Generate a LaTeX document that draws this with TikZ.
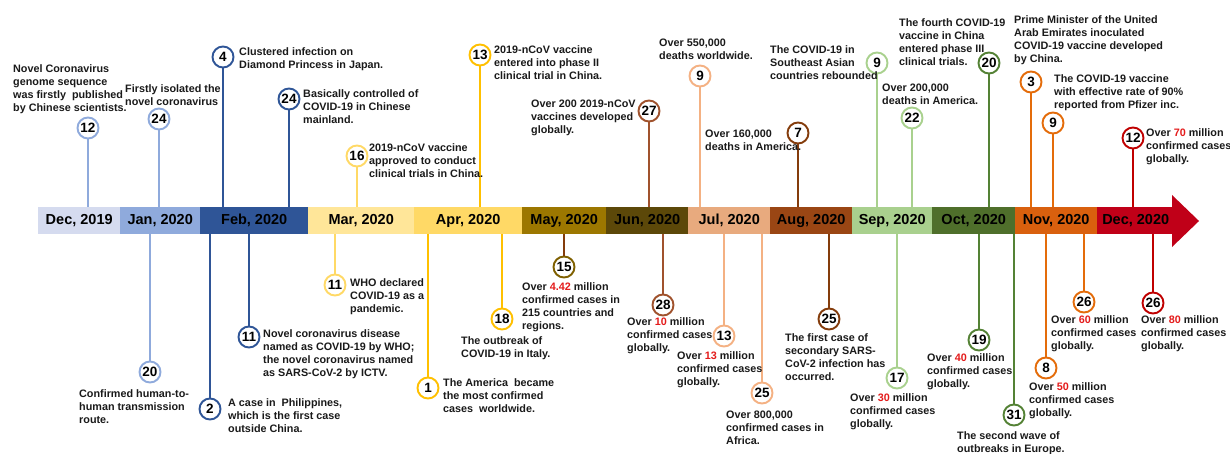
\documentclass[tikz,border=0pt]{standalone}
\usepackage{fontspec}
\setmainfont{Liberation Sans}
\definecolor{cD19}{HTML}{D5DBEF}
\definecolor{cJan}{HTML}{8FAADC}
\definecolor{cFeb}{HTML}{2F5597}
\definecolor{cMar}{HTML}{FFE699}
\definecolor{cApr}{HTML}{FFD966}
\definecolor{cMay}{HTML}{9C7700}
\definecolor{cJun}{HTML}{5C4809}
\definecolor{cJul}{HTML}{E8AA7E}
\definecolor{cAug}{HTML}{9A4614}
\definecolor{cSep}{HTML}{A9D08E}
\definecolor{cOct}{HTML}{4F6F2B}
\definecolor{cNov}{HTML}{D9600E}
\definecolor{cDec}{HTML}{C00018}
\definecolor{sJan}{HTML}{8FAADC}
\definecolor{sFeb}{HTML}{2F5597}
\definecolor{sMar}{HTML}{FFD966}
\definecolor{sApr}{HTML}{FFC000}
\definecolor{sMay}{HTML}{7F6000}
\definecolor{sJun}{HTML}{A0522D}
\definecolor{sJul}{HTML}{F4B183}
\definecolor{sAug}{HTML}{843C0C}
\definecolor{sSep}{HTML}{A9D18E}
\definecolor{sOct}{HTML}{548235}
\definecolor{sNov}{HTML}{E46C0A}
\definecolor{sDec}{HTML}{C00000}
\definecolor{numred}{HTML}{E41B1B}
\definecolor{txtcol}{HTML}{1A1A1A}
\newcommand{\rn}[1]{\textcolor{numred}{#1}}
\tikzset{
  ev/.style={circle, draw=#1, fill=white, line width=1.9pt, minimum size=21pt, inner sep=0pt, text=black, font=\bfseries\fontsize{13.5}{13.5}\selectfont},
  stem/.style={draw=#1, line width=1.6pt},
  txt/.style={anchor=north west, inner sep=0pt, align=left, text=txtcol, font=\bfseries\fontsize{10.8}{13}\selectfont},
  month/.style={fill=#1, anchor=west, minimum height=27pt, inner sep=0pt, text=black, font=\bfseries\fontsize{14.5}{14.5}\selectfont},
}
\begin{document}
\begin{tikzpicture}[x=1pt,y=-1pt]
\fill[white] (0,0) rectangle (1230,454);
\useasboundingbox (0,0) rectangle (1230,454);
% timeline bar
\fill[cDec] (1172,195) -- (1199,221) -- (1172,247) -- cycle;
\node[month=cD19, minimum width=82pt] (mD19) at (38,220.5) {Dec, 2019};
\node[month=cJan, minimum width=80pt] (mJan) at (120,220.5) {Jan, 2020};
\node[month=cFeb, minimum width=108pt] (mFeb) at (200,220.5) {Feb, 2020};
\node[month=cMar, minimum width=106pt] (mMar) at (308,220.5) {Mar, 2020};
\node[month=cApr, minimum width=108pt] (mApr) at (414,220.5) {Apr, 2020};
\node[month=cMay, minimum width=84pt] (mMay) at (522,220.5) {May, 2020};
\node[month=cJun, minimum width=82pt] (mJun) at (606,220.5) {Jun, 2020};
\node[month=cJul, minimum width=82pt] (mJul) at (688,220.5) {Jul, 2020};
\node[month=cAug, minimum width=82pt] (mAug) at (770,220.5) {Aug, 2020};
\node[month=cSep, minimum width=80pt] (mSep) at (852,220.5) {Sep, 2020};
\node[month=cOct, minimum width=83pt] (mOct) at (932,220.5) {Oct, 2020};
\node[month=cNov, minimum width=82pt] (mNov) at (1015,220.5) {Nov, 2020};
\node[month=cDec, minimum width=77pt] (mDec) at (1097,220.5) {Dec, 2020};

% ---------- top events ----------
\node[ev=sJan] (t1) at (88,128) {12};
\node[ev=sJan] (t2) at (159,119) {24};
\node[ev=sFeb] (t3) at (223,57) {4};
\node[ev=sFeb] (t4) at (289,99) {24};
\node[ev=sMar] (t5) at (357,156) {16};
\node[ev=sApr] (t6) at (480,55) {13};
\node[ev=sJun] (t7) at (649,111) {27};
\node[ev=sJul] (t8) at (700,76) {9};
\node[ev=sAug] (t9) at (798,133) {7};
\node[ev=sSep] (t10) at (877,63) {9};
\node[ev=sSep] (t11) at (912,118) {22};
\node[ev=sOct] (t12) at (989,63) {20};
\node[ev=sNov] (t13) at (1031,82) {3};
\node[ev=sNov] (t14) at (1053,123) {9};
\node[ev=sDec] (t15) at (1133,138) {12};

\draw[stem=sJan] (t1.south) -- (t1 |- mD19.north);
\draw[stem=sJan] (t2.south) -- (t2 |- mJan.north);
\draw[stem=sFeb] (t3.south) -- (t3 |- mFeb.north);
\draw[stem=sFeb] (t4.south) -- (t4 |- mFeb.north);
\draw[stem=sMar] (t5.south) -- (t5 |- mMar.north);
\draw[stem=sApr] (t6.south) -- (t6 |- mApr.north);
\draw[stem=sJun] (t7.south) -- (t7 |- mJun.north);
\draw[stem=sJul] (t8.south) -- (t8 |- mJul.north);
\draw[stem=sAug] (t9.south) -- (t9 |- mAug.north);
\draw[stem=sSep] (t10.south) -- (t10 |- mSep.north);
\draw[stem=sSep] (t11.south) -- (t11 |- mSep.north);
\draw[stem=sOct] (t12.south) -- (t12 |- mOct.north);
\draw[stem=sNov] (t13.south) -- (t13 |- mNov.north);
\draw[stem=sNov] (t14.south) -- (t14 |- mNov.north);
\draw[stem=sDec] (t15.south) -- (t15 |- mDec.north);

\node[txt] (tx1) at (13,64) {Novel Coronavirus\\genome sequence\\was firstly\ \ published\\by Chinese scientists.};
\node[txt] (tx2) at (125,84) {Firstly isolated the\\novel coronavirus};
\node[txt] (tx3) at (239,47) {Clustered infection on\\Diamond Princess in Japan.};
\node[txt] (tx4) at (303,89) {Basically controlled of\\COVID-19 in Chinese\\mainland.};
\node[txt] (tx5) at (369,143) {2019-nCoV vaccine\\approved to conduct\\clinical trials in China.};
\node[txt] (tx6) at (494,45) {2019-nCoV vaccine\\entered into phase II\\clinical trial in China.};
\node[txt] (tx7) at (531,100) {Over 200 2019-nCoV\\vaccines developed\\globally.};
\node[txt] (tx8) at (659,39) {Over 550,000\\deaths worldwide.};
\node[txt] (tx9) at (705,130) {Over 160,000\\deaths in America.};
\node[txt] (tx10) at (770,45) {The COVID-19 in\\Southeast Asian\\countries rebounded};
\node[txt] (tx11) at (882,84) {Over 200,000\\deaths in America.};
\node[txt] (tx12) at (899,18) {The fourth COVID-19\\vaccine in China\\entered phase III\\clinical trials.};
\node[txt] (tx13) at (1014,15) {Prime Minister of the United\\Arab Emirates inoculated\\COVID-19 vaccine developed\\by China.};
\node[txt] (tx14) at (1054,74) {The COVID-19 vaccine\\with effective rate of 90\%\\reported from Pfizer inc.};
\node[txt] (tx15) at (1146,128) {Over \rn{70} million\\confirmed cases\\globally.};

% ---------- bottom events ----------
\node[ev=sJan] (b1) at (150,372) {20};
\node[ev=sFeb] (b2) at (210,409) {2};
\node[ev=sFeb] (b3) at (249,337) {11};
\node[ev=sMar] (b4) at (335,285) {11};
\node[ev=sApr] (b5) at (428,388) {1};
\node[ev=sApr] (b6) at (502,319) {18};
\node[ev=sMay] (b7) at (564,267) {15};
\node[ev=sJun] (b8) at (663,305) {28};
\node[ev=sJul] (b9) at (724,336) {13};
\node[ev=sJul] (b10) at (762,393) {25};
\node[ev=sAug] (b11) at (829,319) {25};
\node[ev=sSep] (b12) at (897,378) {17};
\node[ev=sOct] (b13) at (979,340) {19};
\node[ev=sOct] (b14) at (1014,415) {31};
\node[ev=sNov] (b15) at (1046,368) {8};
\node[ev=sNov] (b16) at (1084,302) {26};
\node[ev=sDec] (b17) at (1153,303) {26};

\draw[stem=sJan] (b1.north) -- (b1 |- mJan.south);
\draw[stem=sFeb] (b2.north) -- (b2 |- mFeb.south);
\draw[stem=sFeb] (b3.north) -- (b3 |- mFeb.south);
\draw[stem=sMar] (b4.north) -- (b4 |- mMar.south);
\draw[stem=sApr] (b5.north) -- (b5 |- mApr.south);
\draw[stem=sApr] (b6.north) -- (b6 |- mApr.south);
\draw[stem=sAug] (b7.north) -- (b7 |- mMay.south);
\draw[stem=sJun] (b8.north) -- (b8 |- mJun.south);
\draw[stem=sJul] (b9.north) -- (b9 |- mJul.south);
\draw[stem=sJul] (b10.north) -- (b10 |- mJul.south);
\draw[stem=sAug] (b11.north) -- (b11 |- mAug.south);
\draw[stem=sSep] (b12.north) -- (b12 |- mSep.south);
\draw[stem=sOct] (b13.north) -- (b13 |- mOct.south);
\draw[stem=sOct] (b14.north) -- (b14 |- mOct.south);
\draw[stem=sNov] (b15.north) -- (b15 |- mNov.south);
\draw[stem=sNov] (b16.north) -- (b16 |- mNov.south);
\draw[stem=sDec] (b17.north) -- (b17 |- mDec.south);

\node[txt] (bx1) at (79,389) {Confirmed human-to-\\human transmission\\route.};
\node[txt] (bx2) at (228,398) {A case in\ \ Philippines,\\which is the first case\\outside China.};
\node[txt] (bx3) at (263,329) {Novel coronavirus disease\\named as COVID-19 by WHO;\\the novel coronavirus named\\as SARS-CoV-2 by ICTV.};
\node[txt] (bx4) at (350,278) {WHO declared\\COVID-19 as a\\pandemic.};
\node[txt] (bx5) at (443,378) {The America\ \ became\\the most confirmed\\cases\ \ worldwide.};
\node[txt] (bx6) at (461,336) {The outbreak of\\COVID-19 in Italy.};
\node[txt] (bx7) at (522,282) {Over \rn{4.42} million\\confirmed cases in\\215 countries and\\regions.};
\node[txt] (bx8) at (627,317) {Over \rn{10} million\\confirmed cases\\globally.};
\node[txt] (bx9) at (677,351) {Over \rn{13} million\\confirmed cases\\globally.};
\node[txt] (bx10) at (726,411) {Over 800,000\\confirmed cases in\\Africa.};
\node[txt] (bx11) at (785,333) {The first case of\\secondary SARS-\\CoV-2 infection has\\occurred.};
\node[txt] (bx12) at (850,393) {Over \rn{30} million\\confirmed cases\\globally.};
\node[txt] (bx13) at (927,353) {Over \rn{40} million\\confirmed cases\\globally.};
\node[txt] (bx14) at (957,431) {The second wave of\\outbreaks in Europe.};
\node[txt] (bx15) at (1029,382) {Over \rn{50} million\\confirmed cases\\globally.};
\node[txt] (bx16) at (1051,315) {Over \rn{60} million\\confirmed cases\\globally.};
\node[txt] (bx17) at (1141,315) {Over \rn{80} million\\confirmed cases\\globally.};
\end{tikzpicture}
\end{document}
